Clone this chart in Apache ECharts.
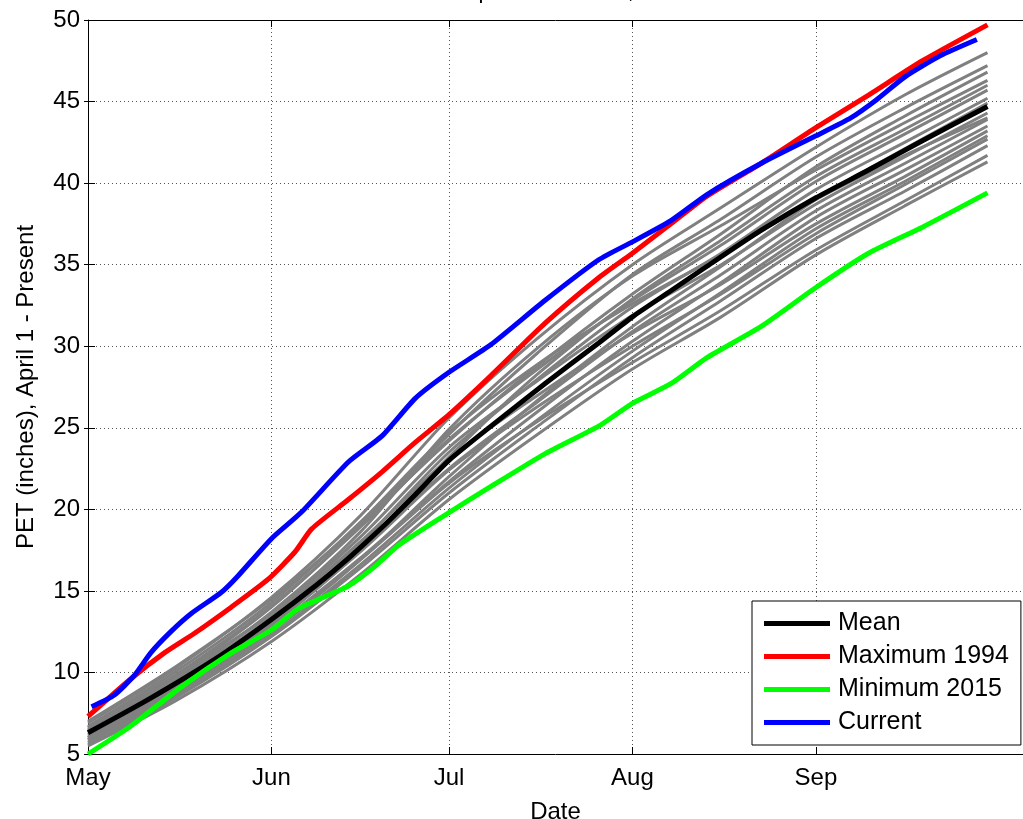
<!DOCTYPE html>
<html>
<head>
<meta charset="utf-8">
<script src="https://cdn.jsdelivr.net/npm/echarts@6/dist/echarts.min.js"></script>
<style>
  html, body { margin: 0; padding: 0; background: #fff; }
  #chart { width: 1023px; height: 819px; }
</style>
</head>
<body>
<div id="chart"></div>
<script>
// days counted from May 1
var monthDays = [0, 31, 61, 92, 123];
var monthNames = ['May', 'Jun', 'Jul', 'Aug', 'Sep'];

// mean of all years  [day, inches]
var meanPts = [[0,6.3],[10,8.3],[21.4,10.8],[31,13.25],[38.4,15.3],[44,17.0],[49.7,18.9],[55.3,20.9],
  [61,23.0],[68.1,25.1],[77.2,27.7],[86.3,30.2],[92,31.8],[98.5,33.4],[104.6,34.9],[113.7,37.1],
  [123,39.1],[131.9,40.8],[141,42.6],[152,44.7]];
// maximum year 1994
var maxPts = [[0,7.3],[7.2,9.6],[12.9,11.2],[18,12.4],[24.2,14.0],[30.4,15.7],[35,17.4],[37.8,18.8],
  [44,20.6],[49.7,22.3],[55.3,24.1],[61,25.8],[68.1,28.2],[77.2,31.4],[86.3,34.2],[92,35.7],
  [98.5,37.5],[104.6,39.2],[113.7,41.2],[123,43.4],[131.9,45.4],[141,47.5],[152,49.7]];
// minimum year 2015
var minPts = [[0,5.0],[7.2,6.7],[15.7,9.1],[24.2,11.2],[31,12.6],[35.5,13.9],[44,15.3],[48.5,16.5],
  [52.5,17.8],[61,19.8],[68.1,21.4],[77.2,23.4],[86.3,25.1],[92,26.5],[98.5,27.7],[104.6,29.3],
  [113.7,31.2],[123,33.6],[131.9,35.7],[141,37.3],[152,39.4]];
// current year
var curPts = [[0.6,7.9],[4.4,8.6],[7.8,9.8],[10.6,11.2],[14,12.5],[17.4,13.6],[22.5,14.9],[25.3,15.9],
  [31,18.2],[36,19.8],[44,22.9],[49.7,24.5],[55.3,26.8],[61,28.4],[68.1,30.1],[77.2,32.8],
  [86.3,35.3],[92,36.4],[98.5,37.7],[104.6,39.3],[113.7,41.2],[123,42.9],[128.9,44.0],
  [133.2,45.1],[138,46.5],[144,47.8],[150.2,48.8]];

// the other years (gray)
var grayDays = [0, 15, 31, 46, 61, 76, 92, 107, 123, 138, 152];
var grayRuns = [
  [6.9, 10.3, 14.6, 19.6, 25.6, 30.5, 35.0, 38.5, 42.2, 45.4, 48.0],
  [6.5, 9.8, 14.0, 19.0, 24.6, 29.6, 34.4, 37.8, 41.6, 44.6, 47.2],
  [7.0, 10.4, 14.5, 19.1, 24.2, 28.8, 33.2, 36.9, 41.0, 44.1, 46.8],
  [6.4, 9.6, 13.7, 18.6, 24.9, 29.9, 34.3, 37.4, 40.8, 43.7, 46.3],
  [6.0, 9.0, 12.9, 17.5, 23.2, 28.3, 32.9, 36.5, 40.4, 43.3, 46.0],
  [6.6, 9.9, 14.1, 18.9, 24.3, 28.6, 32.8, 36.2, 40.1, 43.0, 45.7],
  [6.2, 9.3, 13.1, 17.9, 23.5, 28.0, 32.4, 35.7, 39.6, 42.5, 45.2],
  [5.8, 8.7, 12.5, 16.9, 22.0, 26.7, 31.2, 34.9, 39.0, 42.1, 44.9],
  [6.6, 9.8, 13.6, 18.3, 23.8, 27.9, 31.9, 35.0, 38.7, 41.6, 44.3],
  [6.1, 9.2, 13.2, 17.6, 22.5, 26.6, 30.9, 34.4, 38.3, 41.2, 43.9],
  [5.9, 8.9, 12.7, 17.0, 21.7, 26.0, 30.3, 33.9, 37.9, 40.8, 43.5],
  [6.4, 9.5, 13.4, 18.0, 23.1, 27.0, 30.8, 33.8, 37.5, 40.4, 43.2],
  [5.7, 8.6, 12.3, 16.6, 21.3, 25.5, 29.7, 33.3, 37.2, 40.1, 42.9],
  [6.0, 9.1, 13.0, 17.4, 22.4, 26.3, 30.0, 33.2, 36.9, 39.9, 42.7],
  [5.6, 8.5, 12.2, 16.4, 21.0, 25.1, 29.3, 32.8, 36.6, 39.5, 42.3],
  [5.9, 8.8, 12.6, 16.9, 21.6, 25.4, 29.0, 32.2, 35.9, 38.9, 41.7],
  [5.5, 8.3, 11.9, 16.0, 20.6, 24.6, 28.6, 31.8, 35.6, 38.6, 41.3],
  [6.7, 10.1, 14.3, 19.2, 24.7, 28.9, 32.6, 35.6, 39.0, 41.7, 44.0]
];

var font = 'Liberation Sans, Arial, sans-serif';

var series = [];
grayRuns.forEach(function (run, k) {
  series.push({
    name: 'year' + k,
    type: 'line',
    data: grayDays.map(function (d, i) { return [d, run[i]]; }),
    smooth: 0.3,
    symbol: 'none',
    silent: true,
    lineStyle: { color: '#808080', width: 3 }
  });
});
function mainLine(name, pts, color) {
  return {
    name: name, type: 'line', data: pts, symbol: 'none', smooth: 0.2,
    itemStyle: { color: color },
    lineStyle: { color: color, width: 5 }
  };
}
series.push(mainLine('Mean', meanPts, '#000000'));
series.push(mainLine('Maximum 1994', maxPts, '#ff0000'));
series.push(mainLine('Minimum 2015', minPts, '#00ff00'));
series.push(mainLine('Current', curPts, '#0000ff'));

var chart = echarts.init(document.getElementById('chart'));
var option = {
  animation: false,
  backgroundColor: '#fff',
  textStyle: { fontFamily: font },
  title: {
    text: 'Cumulative PET Comparison to Date, 2016',
    left: 262, top: -24,
    textStyle: { fontFamily: font, fontSize: 22, fontWeight: 'normal', color: '#000' }
  },
  grid: { left: 88, right: 0, top: 20, bottom: 65, outerBoundsMode: 'none', containLabel: false },
  legend: {
    data: ['Mean', 'Maximum 1994', 'Minimum 2015', 'Current'],
    orient: 'vertical',
    left: 752, top: 601,
    padding: [10, 12, 10, 12],
    itemGap: 8,
    itemWidth: 66, itemHeight: 5,
    icon: 'rect',
    backgroundColor: '#fff',
    borderColor: '#000', borderWidth: 1,
    textStyle: { fontFamily: font, fontSize: 25, color: '#000', padding: [0, 0, 0, 3] }
  },
  xAxis: [{
    type: 'value', min: 0, max: 158,
    name: 'Date', nameLocation: 'middle', nameGap: 46,
    nameTextStyle: { fontFamily: font, fontSize: 24, color: '#000' },
    axisLine: { lineStyle: { color: '#000', width: 1 } },
    axisTick: { inside: true, length: 7, customValues: monthDays, lineStyle: { color: '#000' } },
    axisLabel: {
      customValues: monthDays, margin: 12,
      fontFamily: font, fontSize: 24, color: '#000',
      formatter: function (v) { return monthNames[monthDays.indexOf(v)]; }
    },
    splitLine: { show: true, lineStyle: { type: [1, 3], color: '#555', width: 1 } }
  }, {
    type: 'value', min: 0, max: 158, position: 'top',
    axisLine: { lineStyle: { color: '#000', width: 1 } },
    axisTick: { inside: true, length: 7, customValues: monthDays, lineStyle: { color: '#000' } },
    axisLabel: { show: false },
    splitLine: { show: false }
  }],
  yAxis: [{
    type: 'value', min: 5, max: 50, interval: 5,
    name: 'PET (inches), April 1 - Present', nameLocation: 'middle', nameGap: 50,
    nameTextStyle: { fontFamily: font, fontSize: 24, color: '#000' },
    axisLine: { show: true, lineStyle: { color: '#000', width: 1 } },
    axisTick: { show: true, inside: true, length: 7, lineStyle: { color: '#000' } },
    axisLabel: { margin: 8, fontFamily: font, fontSize: 24, color: '#000' },
    splitLine: { show: true, lineStyle: { type: [1, 3], color: '#555', width: 1 } }
  }, {
    type: 'value', min: 5, max: 50, interval: 5, position: 'right',
    axisLine: { show: false },
    axisTick: { show: true, inside: true, length: 4, lineStyle: { color: '#000' } },
    axisLabel: { show: false },
    splitLine: { show: false }
  }],
  series: series
};
chart.setOption(option);
</script>
</body>
</html>
